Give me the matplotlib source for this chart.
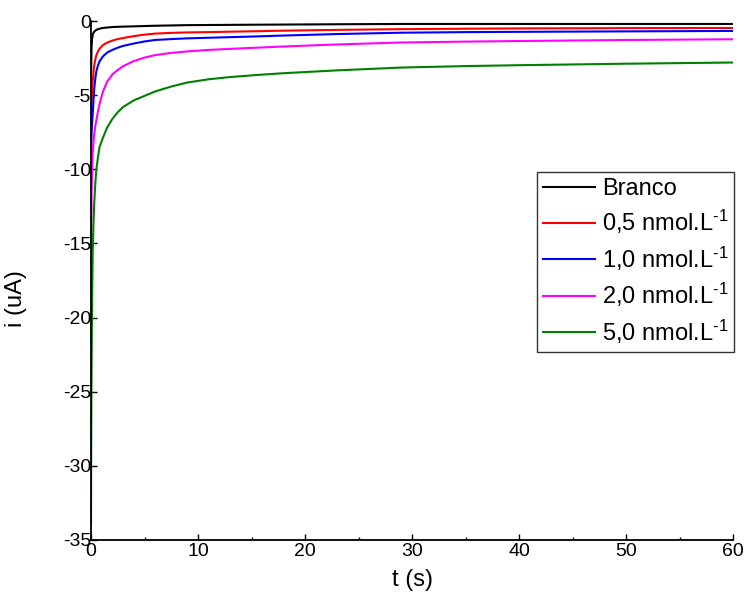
import matplotlib
matplotlib.use("Agg")
import matplotlib.pyplot as plt
from matplotlib.ticker import MultipleLocator

plt.rcParams['font.family'] = ['Liberation Sans', 'DejaVu Sans']
plt.rcParams['mathtext.fontset'] = 'custom'
plt.rcParams['mathtext.rm'] = 'Liberation Sans'
plt.rcParams['mathtext.default'] = 'regular'
plt.rcParams['axes.unicode_minus'] = False

# time (s)
t = [0, 0.02, 0.05, 0.1, 0.16, 0.23, 0.3, 0.4, 0.5, 0.65, 0.8, 1.1, 1.5, 2,
     2.5, 3, 4, 5, 6, 7.5, 9, 11, 13, 15.5, 18, 23, 29, 35, 40, 50, 60]

branco = [-6.0, -3.0, -1.8, -1.2, -0.95, -0.8, -0.72, -0.65, -0.6, -0.55,
          -0.52, -0.47, -0.44, -0.41, -0.39, -0.38, -0.36, -0.34, -0.32,
          -0.3, -0.28, -0.27, -0.26, -0.25, -0.24, -0.22, -0.2, -0.2, -0.2,
          -0.2, -0.2]
c05 = [-8.0, -6.5, -5.5, -4.8, -4.1, -3.5, -3.0, -2.6, -2.3, -2.05, -1.87,
       -1.63, -1.46, -1.32, -1.22, -1.15, -1.02, -0.92, -0.85, -0.8, -0.77,
       -0.75, -0.72, -0.69, -0.65, -0.6, -0.55, -0.52, -0.5, -0.48, -0.47]
c10 = [-10.0, -8.5, -7.5, -6.9, -6.3, -5.4, -4.6, -3.9, -3.4, -3.0, -2.72,
       -2.4, -2.13, -1.95, -1.8, -1.68, -1.52, -1.38, -1.28, -1.22, -1.17,
       -1.13, -1.09, -1.04, -0.98, -0.88, -0.79, -0.75, -0.73, -0.7, -0.67]
c20 = [-18.0, -14.5, -11.8, -10.0, -8.9, -8.2, -7.6, -7.1, -6.7, -6.1, -5.6,
       -4.8, -4.1, -3.6, -3.3, -3.05, -2.7, -2.47, -2.3, -2.15, -2.05, -1.95,
       -1.88, -1.8, -1.72, -1.58, -1.45, -1.39, -1.35, -1.28, -1.23]
c50 = [-34.0, -28.0, -23.5, -19.0, -15.6, -13.7, -12.3, -11.0, -10.0, -9.2,
       -8.5, -7.9, -7.2, -6.6, -6.15, -5.8, -5.35, -5.05, -4.75, -4.42,
       -4.15, -3.93, -3.78, -3.64, -3.52, -3.33, -3.14, -3.04, -2.98, -2.88,
       -2.8]

labels = ['Branco', r'0,5 nmol.L$^{\text{-}1}$', r'1,0 nmol.L$^{\text{-}1}$',
          r'2,0 nmol.L$^{\text{-}1}$', r'5,0 nmol.L$^{\text{-}1}$']
series = [branco, c05, c10, c20, c50]
colors = ['#000000', '#ff0000', '#0000ff', '#ff00ff', '#008000']

fig = plt.figure(figsize=(7.47, 5.94), dpi=100)
ax = fig.add_axes([91/747, 1-540/594, (733-91)/747, (540-21)/594])

for y, lab, col in zip(series, labels, colors):
    ax.plot(t, y, color=col, lw=1.5, label=lab)

ax.set_xlim(0, 60)
ax.set_ylim(-35, 0)
ax.xaxis.set_major_locator(MultipleLocator(10))
ax.xaxis.set_minor_locator(MultipleLocator(5))
ax.yaxis.set_major_locator(MultipleLocator(5))

for s in ['top', 'right']:
    ax.spines[s].set_visible(False)
for s in ['left', 'bottom']:
    ax.spines[s].set_linewidth(1.3)

ax.tick_params(axis='both', which='major', direction='in', length=4,
               width=1.0, labelsize=14, pad=2)
ax.tick_params(axis='x', which='minor', direction='in', length=2.5, width=1.0)
ax.tick_params(axis='y', which='major', pad=0)

ax.set_xlabel('t (s)', fontsize=17)
ax.set_ylabel('i (uA)', fontsize=17)
ax.xaxis.set_label_coords(0.5, -0.055)
ax.yaxis.set_label_coords(-0.1, 0.466)

leg = ax.legend(loc='upper left', bbox_to_anchor=(537/747, 1-172/594),
                bbox_transform=fig.transFigure, fontsize=17, frameon=True,
                fancybox=False, shadow=False, edgecolor='black',
                handlelength=2.2, handletextpad=0.3, labelspacing=0.35,
                borderpad=0.25, borderaxespad=0)
leg.get_frame().set_linewidth(1.0)

fig.savefig('out.png', dpi=100)
